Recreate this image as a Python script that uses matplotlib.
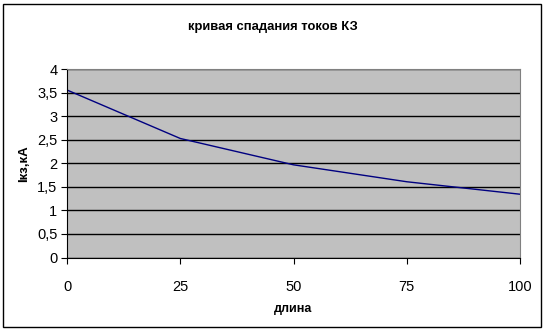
import matplotlib.pyplot as plt
from matplotlib.patches import Rectangle

# длина / ток КЗ
dlina = [0, 25, 50, 75, 100]
tok_kz = [3.56, 2.53, 1.97, 1.61, 1.345]

y_ticks = [0, 0.5, 1, 1.5, 2, 2.5, 3, 3.5, 4]
y_labels = ["0", "0,5", "1", "1,5", "2", "2,5", "3", "3,5", "4"]
x_ticks = [0, 25, 50, 75, 100]

plt.rcParams['font.family'] = ['Liberation Sans', 'DejaVu Sans']

fig = plt.figure(figsize=(5.47, 3.32), dpi=100)
fig.patches.append(Rectangle((3 / 547, 1 - 327 / 332), 538 / 547, 323 / 332,
                             transform=fig.transFigure, fill=False,
                             edgecolor='black', linewidth=1))

ax = fig.add_axes([67 / 547, 1 - 257.5 / 332, 453 / 547, 188.2 / 332])
ax.set_facecolor('#c0c0c0')
ax.plot(dlina, tok_kz, color='#000080', linewidth=1)

ax.set_xlim(0, 100)
ax.set_ylim(0, 4)
ax.set_xticks(x_ticks)
ax.set_yticks(y_ticks)
ax.set_yticklabels(y_labels)
ax.grid(axis='y', color='black', linewidth=1)
ax.set_axisbelow(True)

for side in ['top', 'right']:
    ax.spines[side].set_color('#808080')
for side in ['left', 'bottom']:
    ax.spines[side].set_color('black')
ax.tick_params(axis='x', direction='out', length=4, pad=12, labelsize=10.5)
ax.tick_params(axis='y', direction='out', length=4, pad=3, labelsize=10.5)

fig.text(273 / 547, 1 - 27 / 332, "кривая спадания токов КЗ", ha='center',
         va='center', fontsize=9.4, fontweight='bold')
ax.set_xlabel("длина", fontsize=9, fontweight='bold', labelpad=7)
ax.set_ylabel("Iкз,кА", fontsize=9.5, fontweight='bold', labelpad=5)

fig.savefig("out.png", dpi=100)
